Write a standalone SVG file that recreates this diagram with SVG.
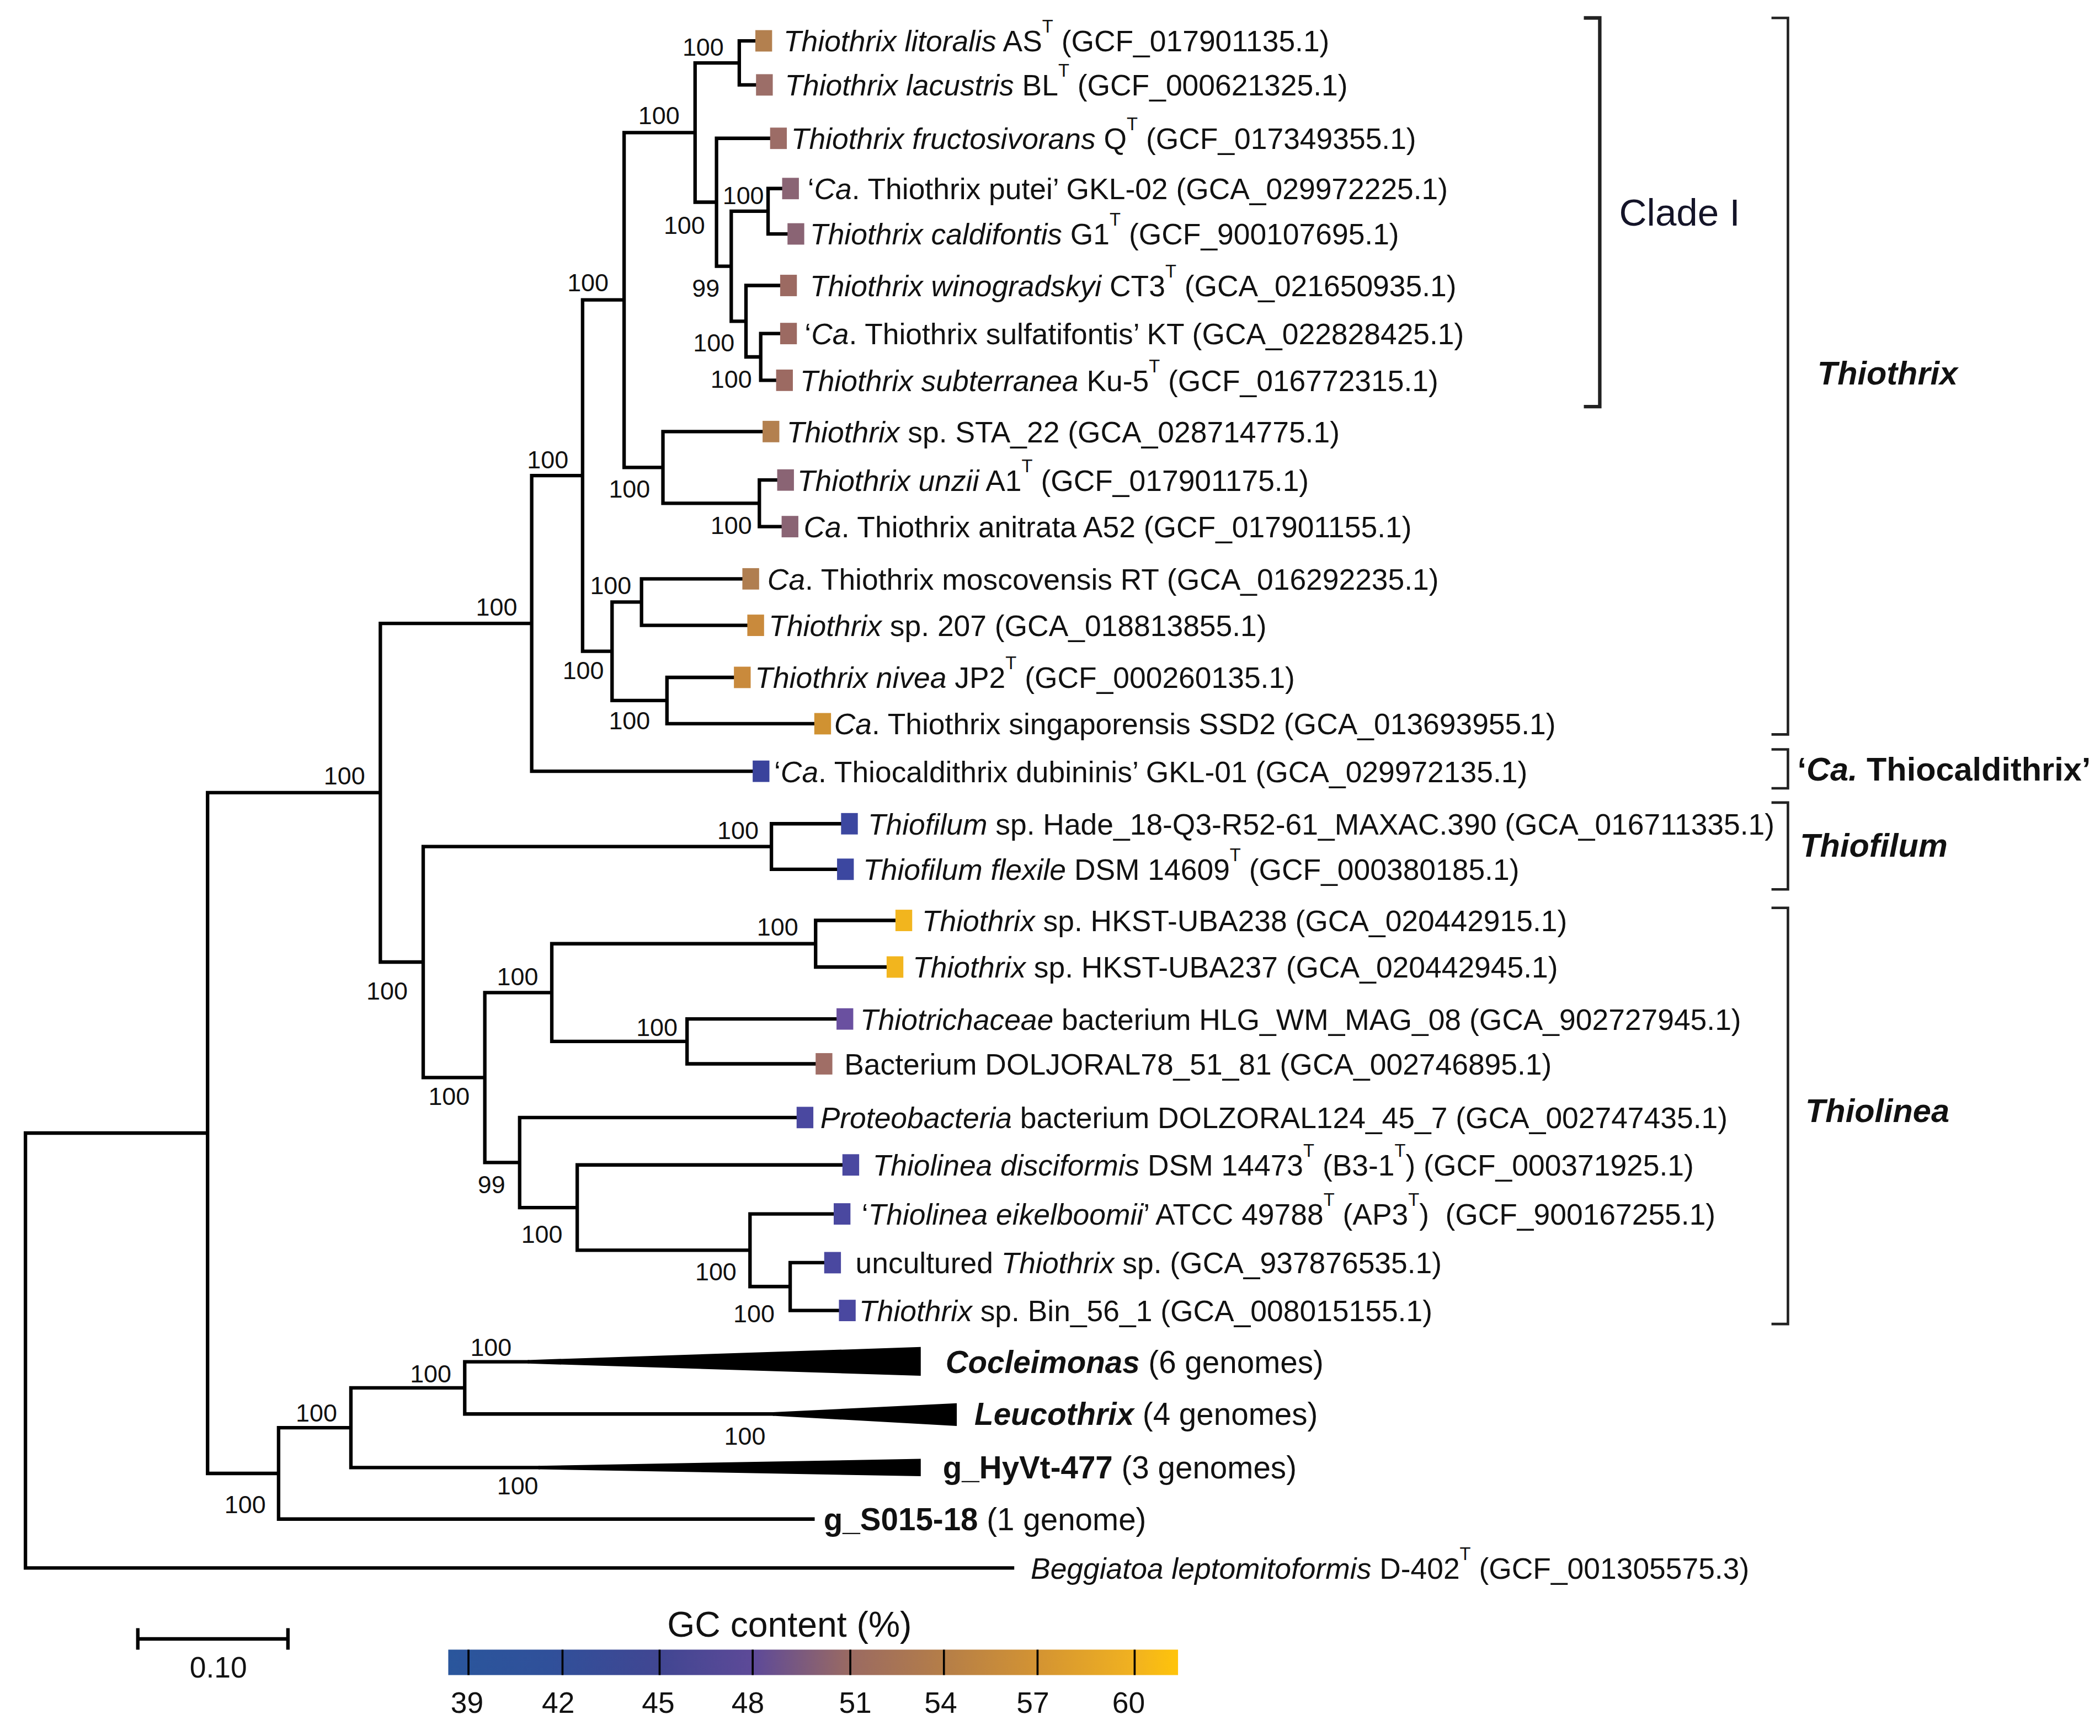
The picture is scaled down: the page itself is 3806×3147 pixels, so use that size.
<svg xmlns="http://www.w3.org/2000/svg" width="3806" height="3147" viewBox="0 0 3806 3147">
<defs>
<style>
text{font-family:"Liberation Sans",Arial,sans-serif;fill:#111}
.lf{font-size:22px}
.bs{font-size:18.5px;text-anchor:middle}
.i{font-style:italic}
.b{font-weight:bold}
.sup{font-size:13.5px}
.br{stroke:#000;stroke-width:2.6;fill:none;stroke-linecap:square}
.brk{stroke:#222;fill:none}
.grp{font-size:24.5px;font-weight:bold}
.col{font-size:23.3px}
.leg{font-size:22px;text-anchor:middle}
</style>
<linearGradient id="gc" x1="0" y1="0" x2="1" y2="0">
<stop offset="0" stop-color="#2a569c"/>
<stop offset="0.14" stop-color="#30509a"/>
<stop offset="0.29" stop-color="#414692"/>
<stop offset="0.42" stop-color="#5e4a98"/>
<stop offset="0.55" stop-color="#9a6a62"/>
<stop offset="0.68" stop-color="#b57e48"/>
<stop offset="0.81" stop-color="#d49432"/>
<stop offset="0.94" stop-color="#f1b220"/>
<stop offset="1" stop-color="#ffc40a"/>
</linearGradient>
</defs>
<rect width="3806" height="3147" fill="#fff"/>
<g transform="scale(2.4273)">
<g id="connectors">
<path class="br" d="M19 846.2V1171M19 846.2H155M19 1171H756M155 592V1100.4M155 592H284M155 1100.4H208M284 465.6V718.5M284 465.6H397M284 718.5H316M397 355.2V576M397 355.2H435M397 576H562M435 224V486.4M435 224H466M435 486.4H457M466 99V349.1M466 99H519M466 349.1H495M519 47V151M519 47H552M519 151H535M552 30.5V63.4M552 30.5H564M552 63.4H564.5M535 103.3V198.8M535 103.3H575M535 198.8H546M546 157.75V239.9M546 157.75H573.5M546 239.9H557M573.5 140.8V174.7M573.5 140.8H584M573.5 174.7H588M557 213.2V266.55M557 213.2H582.5M557 266.55H568M568 249.1V284M568 249.1H582.5M568 284H579.5M495 322.3V375.9M495 322.3H569.4M495 375.9H567M567 358.5V393.3M567 358.5H580.3M567 393.3H583.6M457 449.65V523.2M457 449.65H479M457 523.2H498M479 432.3V467M479 432.3H554.3M479 467H558M498 505.9V540.5M498 505.9H548M498 540.5H608M316 632.2V804.75M316 632.2H576M316 804.75H362M576 615.2V649.2M576 615.2H628M576 649.2H625M362 741.3V868.2M362 741.3H412M362 868.2H388M412 704.8V777.75M412 704.8H609M412 777.75H513M609 687.4V722.2M609 687.4H668.6M609 722.2H662M513 761V794.5M513 761H624.6M513 794.5H609M388 834.6V901.85M388 834.6H594.8M388 901.85H431M431 870V933.7M431 870H629M431 933.7H560M560 906.6V960.85M560 906.6H622.5M560 960.85H590M590 943V978.7M590 943H615.4M590 978.7H626.4M208 1066.25V1134.5M208 1066.25H262M208 1134.5H607M262 1036.5V1096M262 1036.5H347M262 1096H402M347 1017V1056M347 1017H394M347 1056H577"/>
</g>
<g id="bootstrap">
<text class="bs" x="525" y="41.6">100</text>
<text class="bs" x="492" y="92.6">100</text>
<text class="bs" x="555" y="152.6">100</text>
<text class="bs" x="511" y="174.6">100</text>
<text class="bs" x="527" y="221.6">99</text>
<text class="bs" x="533" y="262.6">100</text>
<text class="bs" x="546" y="289.6">100</text>
<text class="bs" x="439" y="217.6">100</text>
<text class="bs" x="409" y="349.6">100</text>
<text class="bs" x="470" y="371.6">100</text>
<text class="bs" x="546" y="398.6">100</text>
<text class="bs" x="456" y="443.6">100</text>
<text class="bs" x="435.5" y="507.2">100</text>
<text class="bs" x="470" y="544.6">100</text>
<text class="bs" x="370.8" y="459.6">100</text>
<text class="bs" x="257.2" y="585.8">100</text>
<text class="bs" x="551" y="626.6">100</text>
<text class="bs" x="289" y="746.6">100</text>
<text class="bs" x="580.6" y="698.6">100</text>
<text class="bs" x="386.4" y="735.6">100</text>
<text class="bs" x="490.5" y="773.6">100</text>
<text class="bs" x="335.3" y="825.4">100</text>
<text class="bs" x="367" y="891.1">99</text>
<text class="bs" x="404.6" y="928.1">100</text>
<text class="bs" x="534.5" y="956.2">100</text>
<text class="bs" x="563" y="987.6">100</text>
<text class="bs" x="366.6" y="1012.6">100</text>
<text class="bs" x="321.6" y="1032.3">100</text>
<text class="bs" x="236.3" y="1061.5">100</text>
<text class="bs" x="556.2" y="1078.8">100</text>
<text class="bs" x="386.5" y="1115.9">100</text>
<text class="bs" x="183" y="1130.1">100</text>
</g>
<g id="leaf1"><rect x="564" y="22.5" width="12.5" height="16" fill="#b3804f"/><text class="lf" x="585" y="38.5"><tspan class="i">Thiothrix litoralis</tspan> AS<tspan class="sup" dy="-14">T</tspan><tspan dy="14"> (GCF_017901135.1)</tspan></text></g>
<g id="leaf2"><rect x="564.5" y="55.4" width="12.5" height="16" fill="#9c6e68"/><text class="lf" x="586" y="71.4"><tspan class="i">Thiothrix lacustris</tspan> BL<tspan class="sup" dy="-14">T</tspan><tspan dy="14"> (GCF_000621325.1)</tspan></text></g>
<g id="leaf3"><rect x="575" y="95.3" width="12.5" height="16" fill="#9c6c66"/><text class="lf" x="590.7" y="111.3"><tspan class="i">Thiothrix fructosivorans</tspan> Q<tspan class="sup" dy="-14">T</tspan><tspan dy="14"> (GCF_017349355.1)</tspan></text></g>
<g id="leaf4"><rect x="584" y="132.8" width="12.5" height="16" fill="#8a6474"/><text class="lf" x="603" y="148.8">‘<tspan class="i">Ca</tspan>. Thiothrix putei’ GKL-02 (GCA_029972225.1)</text></g>
<g id="leaf5"><rect x="588" y="166.7" width="12.5" height="16" fill="#8a6474"/><text class="lf" x="604.8" y="182.7"><tspan class="i">Thiothrix caldifontis</tspan> G1<tspan class="sup" dy="-14">T</tspan><tspan dy="14"> (GCF_900107695.1)</tspan></text></g>
<g id="leaf6"><rect x="582.5" y="205.2" width="12.5" height="16" fill="#9c6a62"/><text class="lf" x="604.8" y="221.2"><tspan class="i">Thiothrix winogradskyi</tspan> CT3<tspan class="sup" dy="-14">T</tspan><tspan dy="14"> (GCA_021650935.1)</tspan></text></g>
<g id="leaf7"><rect x="582.5" y="241.1" width="12.5" height="16" fill="#9c6a62"/><text class="lf" x="600.8" y="257.1">‘<tspan class="i">Ca</tspan>. Thiothrix sulfatifontis’ KT (GCA_022828425.1)</text></g>
<g id="leaf8"><rect x="579.5" y="276" width="12.5" height="16" fill="#9c6a62"/><text class="lf" x="597.4" y="292"><tspan class="i">Thiothrix subterranea</tspan> Ku-5<tspan class="sup" dy="-14">T</tspan><tspan dy="14"> (GCF_016772315.1)</tspan></text></g>
<g id="leaf9"><rect x="569.4" y="314.3" width="12.5" height="16" fill="#b3804f"/><text class="lf" x="587.4" y="330.3"><tspan class="i">Thiothrix</tspan> sp. STA_22 (GCA_028714775.1)</text></g>
<g id="leaf10"><rect x="580.3" y="350.5" width="12.5" height="16" fill="#8a6474"/><text class="lf" x="595.3" y="366.5"><tspan class="i">Thiothrix unzii</tspan> A1<tspan class="sup" dy="-14">T</tspan><tspan dy="14"> (GCF_017901175.1)</tspan></text></g>
<g id="leaf11"><rect x="583.6" y="385.3" width="12.5" height="16" fill="#8a6474"/><text class="lf" x="600" y="401.3"><tspan class="i">Ca</tspan>. Thiothrix anitrata A52 (GCF_017901155.1)</text></g>
<g id="leaf12"><rect x="554.3" y="424.3" width="12.5" height="16" fill="#b07e50"/><text class="lf" x="573" y="440.3"><tspan class="i">Ca</tspan>. Thiothrix moscovensis RT (GCA_016292235.1)</text></g>
<g id="leaf13"><rect x="558" y="459" width="12.5" height="16" fill="#c98a3c"/><text class="lf" x="574" y="475"><tspan class="i">Thiothrix</tspan> sp. 207 (GCA_018813855.1)</text></g>
<g id="leaf14"><rect x="548" y="497.9" width="12.5" height="16" fill="#c98a3c"/><text class="lf" x="563.7" y="513.9"><tspan class="i">Thiothrix nivea</tspan> JP2<tspan class="sup" dy="-14">T</tspan><tspan dy="14"> (GCF_000260135.1)</tspan></text></g>
<g id="leaf15"><rect x="608" y="532.5" width="12.5" height="16" fill="#d09232"/><text class="lf" x="622.8" y="548.5"><tspan class="i">Ca</tspan>. Thiothrix singaporensis SSD2 (GCA_013693955.1)</text></g>
<g id="leaf16"><rect x="562" y="568" width="12.5" height="16" fill="#3a439c"/><text class="lf" x="578" y="584">‘<tspan class="i">Ca</tspan>. Thiocaldithrix dubininis’ GKL-01 (GCA_029972135.1)</text></g>
<g id="leaf17"><rect x="628" y="607.2" width="12.5" height="16" fill="#3c47a0"/><text class="lf" x="648" y="623.2"><tspan class="i">Thiofilum</tspan> sp. Hade_18-Q3-R52-61_MAXAC.390 (GCA_016711335.1)</text></g>
<g id="leaf18"><rect x="625" y="641.2" width="12.5" height="16" fill="#3c47a0"/><text class="lf" x="644.4" y="657.2"><tspan class="i">Thiofilum flexile</tspan> DSM 14609<tspan class="sup" dy="-14">T</tspan><tspan dy="14"> (GCF_000380185.1)</tspan></text></g>
<g id="leaf19"><rect x="668.6" y="679.4" width="12.5" height="16" fill="#f2b51e"/><text class="lf" x="688.4" y="695.4"><tspan class="i">Thiothrix</tspan> sp. HKST-UBA238 (GCA_020442915.1)</text></g>
<g id="leaf20"><rect x="662" y="714.2" width="12.5" height="16" fill="#f2b51e"/><text class="lf" x="681.5" y="730.2"><tspan class="i">Thiothrix</tspan> sp. HKST-UBA237 (GCA_020442945.1)</text></g>
<g id="leaf21"><rect x="624.6" y="753" width="12.5" height="16" fill="#6a50a0"/><text class="lf" x="642.3" y="769"><tspan class="i">Thiotrichaceae</tspan> bacterium HLG_WM_MAG_08 (GCA_902727945.1)</text></g>
<g id="leaf22"><rect x="609" y="786.5" width="12.5" height="16" fill="#a06e66"/><text class="lf" x="630.4" y="802.5">Bacterium DOLJORAL78_51_81 (GCA_002746895.1)</text></g>
<g id="leaf23"><rect x="594.8" y="826.6" width="12.5" height="16" fill="#4a48a0"/><text class="lf" x="612.5" y="842.6"><tspan class="i">Proteobacteria</tspan> bacterium DOLZORAL124_45_7 (GCA_002747435.1)</text></g>
<g id="leaf24"><rect x="629" y="862" width="12.5" height="16" fill="#4a48a0"/><text class="lf" x="651.6" y="878"><tspan class="i">Thiolinea disciformis</tspan> DSM 14473<tspan class="sup" dy="-14">T</tspan><tspan dy="14"> (B3-1</tspan><tspan class="sup" dy="-14">T</tspan><tspan dy="14">) (GCF_000371925.1)</tspan></text></g>
<g id="leaf25"><rect x="622.5" y="898.6" width="12.5" height="16" fill="#4a48a0"/><text class="lf" x="643.4" y="914.6">‘<tspan class="i">Thiolinea eikelboomii</tspan>’ ATCC 49788<tspan class="sup" dy="-14">T</tspan><tspan dy="14"> (AP3</tspan><tspan class="sup" dy="-14">T</tspan><tspan dy="14">)</tspan><tspan dx="6"> (GCF_900167255.1)</tspan></text></g>
<g id="leaf26"><rect x="615.4" y="935" width="12.5" height="16" fill="#4a48a0"/><text class="lf" x="638.8" y="951">uncultured <tspan class="i">Thiothrix</tspan> sp. (GCA_937876535.1)</text></g>
<g id="leaf27"><rect x="626.4" y="970.7" width="12.5" height="16" fill="#4a48a0"/><text class="lf" x="641.5" y="986.7"><tspan class="i">Thiothrix</tspan> sp. Bin_56_1 (GCA_008015155.1)</text></g>
<g id="cocleimonas"><polygon points="394,1015.7 687.5,1006 687.5,1027.5 394,1018.3" fill="#000"/><text class="col" x="706" y="1025.3"><tspan class="b i">Cocleimonas</tspan> (6 genomes)</text></g>
<g id="leucothrix"><polygon points="577,1054.7 714.4,1048 714.4,1065 577,1057.3" fill="#000"/><text class="col" x="727.6" y="1064.3"><tspan class="b i">Leucothrix</tspan> (4 genomes)</text></g>
<g id="hyvt477"><polygon points="402,1094.7 687.5,1089.5 687.5,1102.5 402,1097.3" fill="#000"/><text class="col" x="704" y="1104.3"><tspan class="b">g_HyVt-477</tspan> (3 genomes)</text></g>
<g id="s01518"><text class="col" x="615" y="1142.8"><tspan class="b">g_S015-18</tspan> (1 genome)</text></g>
<g id="beggiatoa"><text class="lf" x="769.6" y="1179"><tspan class="i">Beggiatoa leptomitoformis</tspan> D-402<tspan class="sup" dy="-14">T</tspan><tspan dy="14"> (GCF_001305575.3)</tspan></text></g>
<g id="brackets">
<path class="brk" stroke-width="2.6" d="M1182.6 13.4H1194.5V303.7H1182.6"/>
<path class="brk" stroke-width="1.9" d="M1322.7 13.4H1335V548.5H1322.7M1322.7 559.7H1335V588.7H1322.7M1322.7 599.4H1335V664.2H1322.7M1322.7 678H1335V988.8H1322.7"/>
<text x="1209" y="168.5" style="font-size:28.5px;fill:#141428">Clade I</text>
<text class="grp i" x="1357" y="287">Thiothrix</text>
<text class="grp" x="1342" y="583">‘<tspan class="i">Ca.</tspan> Thiocaldithrix’</text>
<text class="grp i" x="1344" y="640">Thiofilum</text>
<text class="grp i" x="1348" y="838">Thiolinea</text>
</g>
<g id="scalebar">
<path stroke="#000" stroke-width="2.6" fill="none" d="M102.9 1224H215M102.9 1216V1232M215 1216V1232"/>
<text class="leg" x="163" y="1253">0.10</text>
</g>
<g id="legend">
<text x="589.5" y="1222.5" style="font-size:26.5px;text-anchor:middle">GC content (%)</text>
<rect x="334.7" y="1232" width="544.9" height="19" fill="url(#gc)"/>
<path stroke="#000" stroke-width="1.5" d="M349.8 1232V1251M420 1232V1251M492.5 1232V1251M562 1232V1251M634.9 1232V1251M704.8 1232V1251M774.7 1232V1251M847.2 1232V1251"/>
<text class="leg" x="348.7" y="1279">39</text>
<text class="leg" x="416.8" y="1279">42</text>
<text class="leg" x="491.5" y="1279">45</text>
<text class="leg" x="558.4" y="1279">48</text>
<text class="leg" x="638.6" y="1279">51</text>
<text class="leg" x="702.4" y="1279">54</text>
<text class="leg" x="771.2" y="1279">57</text>
<text class="leg" x="842.7" y="1279">60</text>
</g>
</g>
</svg>
